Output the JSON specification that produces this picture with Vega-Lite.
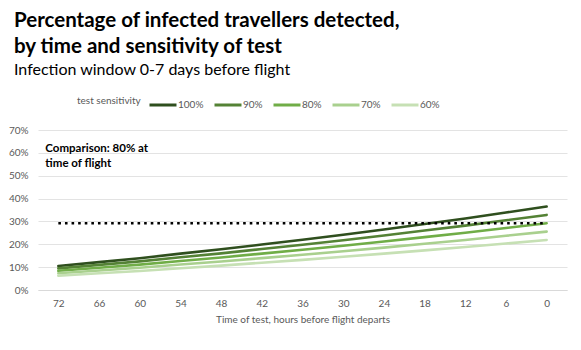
{
  "$schema": "https://vega.github.io/schema/vega-lite/v6.json",
  "width": 529,
  "height": 160,
  "autosize": {"type": "none"},
  "padding": {"left": 38, "top": 130, "right": 14, "bottom": 60},
  "background": "white",
  "title": {
    "text": ["Percentage of infected travellers detected,", "by time and sensitivity of test"],
    "subtitle": "Infection window 0-7 days before flight",
    "anchor": "start",
    "frame": "group",
    "font": "Lato",
    "fontSize": 20.5,
    "fontWeight": "bold",
    "color": "#000000",
    "lineHeight": 26,
    "subtitleFont": "Lato",
    "subtitleFontSize": 16,
    "subtitleColor": "#000000",
    "subtitlePadding": 5,
    "dx": -24,
    "offset": 12
  },
  "datasets": {
    "curves": [
      {"hours": 72, "sensitivity": "100%", "detected": 0.105},
      {"hours": 66, "sensitivity": "100%", "detected": 0.122},
      {"hours": 60, "sensitivity": "100%", "detected": 0.139},
      {"hours": 54, "sensitivity": "100%", "detected": 0.159},
      {"hours": 48, "sensitivity": "100%", "detected": 0.178},
      {"hours": 42, "sensitivity": "100%", "detected": 0.199},
      {"hours": 36, "sensitivity": "100%", "detected": 0.220},
      {"hours": 30, "sensitivity": "100%", "detected": 0.242},
      {"hours": 24, "sensitivity": "100%", "detected": 0.265},
      {"hours": 18, "sensitivity": "100%", "detected": 0.289},
      {"hours": 12, "sensitivity": "100%", "detected": 0.313},
      {"hours": 6, "sensitivity": "100%", "detected": 0.339},
      {"hours": 0, "sensitivity": "100%", "detected": 0.365},
      {"hours": 72, "sensitivity": "90%", "detected": 0.0945},
      {"hours": 66, "sensitivity": "90%", "detected": 0.1098},
      {"hours": 60, "sensitivity": "90%", "detected": 0.1251},
      {"hours": 54, "sensitivity": "90%", "detected": 0.1431},
      {"hours": 48, "sensitivity": "90%", "detected": 0.1602},
      {"hours": 42, "sensitivity": "90%", "detected": 0.1791},
      {"hours": 36, "sensitivity": "90%", "detected": 0.198},
      {"hours": 30, "sensitivity": "90%", "detected": 0.2178},
      {"hours": 24, "sensitivity": "90%", "detected": 0.2385},
      {"hours": 18, "sensitivity": "90%", "detected": 0.2601},
      {"hours": 12, "sensitivity": "90%", "detected": 0.2817},
      {"hours": 6, "sensitivity": "90%", "detected": 0.3051},
      {"hours": 0, "sensitivity": "90%", "detected": 0.3285},
      {"hours": 72, "sensitivity": "80%", "detected": 0.084},
      {"hours": 66, "sensitivity": "80%", "detected": 0.0976},
      {"hours": 60, "sensitivity": "80%", "detected": 0.1112},
      {"hours": 54, "sensitivity": "80%", "detected": 0.1272},
      {"hours": 48, "sensitivity": "80%", "detected": 0.1424},
      {"hours": 42, "sensitivity": "80%", "detected": 0.1592},
      {"hours": 36, "sensitivity": "80%", "detected": 0.176},
      {"hours": 30, "sensitivity": "80%", "detected": 0.1936},
      {"hours": 24, "sensitivity": "80%", "detected": 0.212},
      {"hours": 18, "sensitivity": "80%", "detected": 0.2312},
      {"hours": 12, "sensitivity": "80%", "detected": 0.2504},
      {"hours": 6, "sensitivity": "80%", "detected": 0.2712},
      {"hours": 0, "sensitivity": "80%", "detected": 0.292},
      {"hours": 72, "sensitivity": "70%", "detected": 0.0735},
      {"hours": 66, "sensitivity": "70%", "detected": 0.0854},
      {"hours": 60, "sensitivity": "70%", "detected": 0.0973},
      {"hours": 54, "sensitivity": "70%", "detected": 0.1113},
      {"hours": 48, "sensitivity": "70%", "detected": 0.1246},
      {"hours": 42, "sensitivity": "70%", "detected": 0.1393},
      {"hours": 36, "sensitivity": "70%", "detected": 0.154},
      {"hours": 30, "sensitivity": "70%", "detected": 0.1694},
      {"hours": 24, "sensitivity": "70%", "detected": 0.1855},
      {"hours": 18, "sensitivity": "70%", "detected": 0.2023},
      {"hours": 12, "sensitivity": "70%", "detected": 0.2191},
      {"hours": 6, "sensitivity": "70%", "detected": 0.2373},
      {"hours": 0, "sensitivity": "70%", "detected": 0.2555},
      {"hours": 72, "sensitivity": "60%", "detected": 0.063},
      {"hours": 66, "sensitivity": "60%", "detected": 0.0732},
      {"hours": 60, "sensitivity": "60%", "detected": 0.0834},
      {"hours": 54, "sensitivity": "60%", "detected": 0.0954},
      {"hours": 48, "sensitivity": "60%", "detected": 0.1068},
      {"hours": 42, "sensitivity": "60%", "detected": 0.1194},
      {"hours": 36, "sensitivity": "60%", "detected": 0.132},
      {"hours": 30, "sensitivity": "60%", "detected": 0.1452},
      {"hours": 24, "sensitivity": "60%", "detected": 0.159},
      {"hours": 18, "sensitivity": "60%", "detected": 0.1734},
      {"hours": 12, "sensitivity": "60%", "detected": 0.1878},
      {"hours": 6, "sensitivity": "60%", "detected": 0.2034},
      {"hours": 0, "sensitivity": "60%", "detected": 0.219}
    ],
    "comparison": [
      {"hours": 72, "detected": 0.292},
      {"hours": 0, "detected": 0.292}
    ],
    "note": [
      {"hours": 72, "detected": 0.618, "label": ["Comparison: 80% at", "time of flight"]}
    ]
  },
  "encoding": {
    "x": {
      "field": "hours",
      "type": "ordinal",
      "sort": "descending",
      "scale": {"type": "point", "padding": 0.5, "domain": [72, 66, 60, 54, 48, 42, 36, 30, 24, 18, 12, 6, 0]},
      "axis": {
        "title": "Time of test, hours before flight departs",
        "labelAngle": 0,
        "ticks": false,
        "labelPadding": 8,
        "titlePadding": 6,
        "domainColor": "#d9d9d9",
        "grid": false
      }
    },
    "y": {
      "field": "detected",
      "type": "quantitative",
      "scale": {"domain": [0, 0.7], "nice": false},
      "axis": {
        "title": null,
        "format": ".0%",
        "values": [0, 0.1, 0.2, 0.3, 0.4, 0.5, 0.6, 0.7],
        "ticks": false,
        "domain": false,
        "labelPadding": 10,
        "gridColor": "#e3e3e3"
      }
    }
  },
  "layer": [
    {
      "data": {"name": "curves"},
      "mark": {"type": "line", "strokeWidth": 2.6, "strokeCap": "round"},
      "encoding": {
        "color": {
          "field": "sensitivity",
          "type": "nominal",
          "scale": {
            "domain": ["100%", "90%", "80%", "70%", "60%"],
            "range": ["#2f4f1e", "#548235", "#70ad47", "#a9d08e", "#c6e0b4"]
          },
          "legend": {
            "title": "test sensitivity",
            "orient": "none",
            "legendX": 39,
            "legendY": -40,
            "direction": "horizontal",
            "titleOrient": "left",
            "titleAnchor": "middle",
            "titleBaseline": "middle",
            "symbolType": "stroke",
            "symbolSize": 729,
            "symbolStrokeWidth": 3,
            "columnPadding": 4,
            "labelOffset": 0
          }
        },
        "order": {"field": "sensitivity"}
      }
    },
    {
      "data": {"name": "comparison"},
      "mark": {"type": "line", "color": "#000000", "strokeWidth": 2.6, "strokeDash": [2.6, 4]},
      "encoding": {}
    },
    {
      "data": {"name": "note"},
      "mark": {"type": "text", "align": "left", "baseline": "middle", "dx": -13, "font": "Lato", "fontSize": 11.5, "fontWeight": "bold", "lineHeight": 15, "color": "#000000"},
      "encoding": {"text": {"field": "label"}}
    }
  ],
  "config": {
    "font": "Lato",
    "view": {"stroke": null},
    "axis": {
      "labelFont": "Lato",
      "labelFontSize": 10,
      "labelColor": "#595959",
      "titleFont": "Lato",
      "titleFontSize": 10,
      "titleFontWeight": "normal",
      "titleColor": "#595959"
    },
    "legend": {
      "labelFont": "Lato",
      "labelFontSize": 10,
      "labelColor": "#595959",
      "titleFont": "Lato",
      "titleFontSize": 10,
      "titleFontWeight": "normal",
      "titleColor": "#595959",
      "titlePadding": 7
    }
  }
}
